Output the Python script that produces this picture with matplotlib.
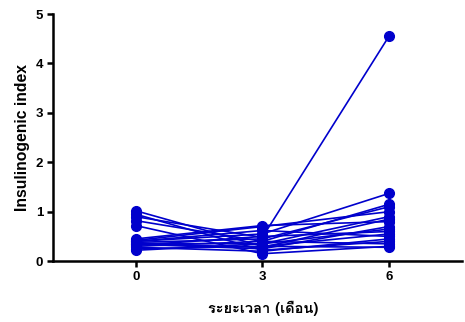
import matplotlib
matplotlib.use("Agg")
import matplotlib.pyplot as plt
from matplotlib import font_manager
from matplotlib.ft2font import FT2Font

months = [0, 3, 6]
tick_labels = ["0", "3", "6"]
t0 = [1.02, 0.95, 0.90, 0.82, 0.72, 0.45, 0.42, 0.40, 0.38, 0.36, 0.34, 0.32, 0.30, 0.28, 0.25, 0.22, 0.40, 0.35]
t3 = [0.30, 0.22, 0.48, 0.40, 0.15, 0.72, 0.70, 0.55, 0.45, 0.35, 0.25, 0.50, 0.40, 0.20, 0.30, 0.35, 0.62, 0.28]
t6 = [0.55, 0.40, 4.55, 0.35, 0.30, 0.80, 1.00, 1.37, 1.10, 0.90, 0.70, 0.60, 1.15, 0.45, 0.28, 0.65, 0.50, 0.85]

# find a font with Thai glyphs
thai_font = None
for f in font_manager.fontManager.ttflist:
    try:
        cm = FT2Font(f.fname).get_charmap()
        if 0x0E23 in cm and 0x0E30 in cm:
            thai_font = f.name
            if f.weight in ("bold", 700):
                break
    except Exception:
        pass

color = "#0000CC"
fig = plt.figure(figsize=(4.65, 3.22), dpi=100)
ax = fig.add_axes([0.114, 0.189, 0.8795, 0.7675])
for a, b, c in zip(t0, t3, t6):
    ax.plot(months, [a, b, c], color=color, lw=1.2, marker="o", ms=7, zorder=3, clip_on=False)

ax.set_xlim(-1.96, 7.73)
ax.set_ylim(0, 5)
ax.set_xticks(months)
ax.set_xticklabels(tick_labels)
ax.set_yticks([0, 1, 2, 3, 4, 5])
for s in ["top", "right"]:
    ax.spines[s].set_visible(False)
for s in ["left", "bottom"]:
    ax.spines[s].set_linewidth(1.8)
ax.tick_params(width=1.8, length=4, labelsize=9.5, pad=3)
for lab in ax.get_xticklabels() + ax.get_yticklabels():
    lab.set_fontweight("bold")
    lab.set_family("Liberation Sans")
ax.set_ylabel("Insulinogenic index", fontsize=11.3, fontweight="bold", family="Liberation Sans", labelpad=4)
fams = [thai_font, "DejaVu Sans"] if thai_font else ["DejaVu Sans"]
ax.set_xlabel("ระยะเวลา (เดือน)", fontsize=10.5, fontweight="bold", family=fams)
ax.xaxis.set_label_coords(0.515, -0.16)
fig.savefig("out.png", dpi=100)
